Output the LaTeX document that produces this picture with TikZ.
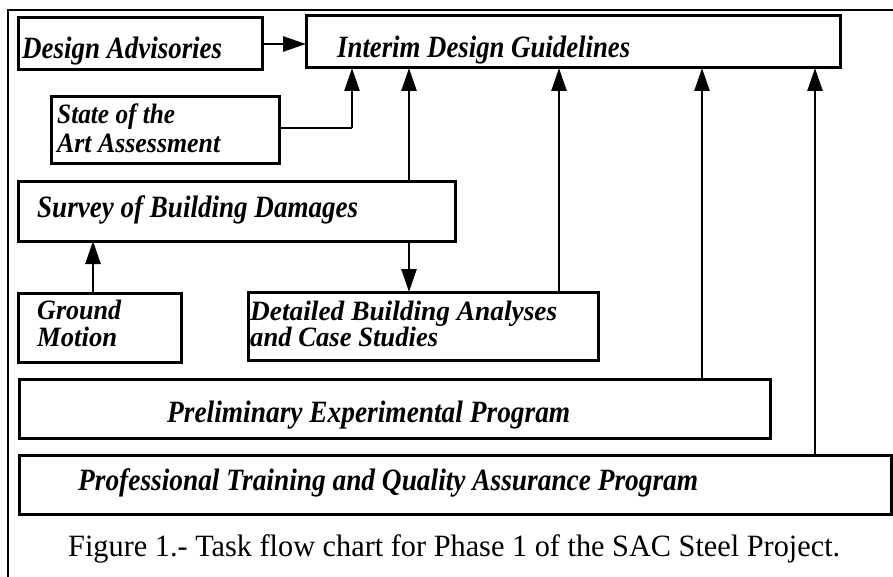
\documentclass[tikz,border=0pt]{standalone}
\usepackage{fontspec}
\usepackage{graphicx}
\setmainfont{Liberation Serif}
\usetikzlibrary{arrows.meta}
\newcommand{\fitw}[2]{\resizebox{#1pt}{\height}{#2}}
\begin{document}
\begin{tikzpicture}[x=1pt,y=-1pt,
  box/.style={draw, line width=3pt, rectangle, outer sep=0pt, inner sep=0pt, fill=white},
  txt/.style={inner sep=0pt, anchor=base west, font=\fontsize{31}{33}\selectfont\bfseries\itshape},
  twoline/.style={inner sep=0pt, anchor=base west, align=left, font=\fontsize{28}{#1}\selectfont\bfseries\itshape},
  captxt/.style={inner sep=0pt, anchor=base west, font=\fontsize{31}{33}\selectfont},
  arr/.style={line width=2.6pt, -{Triangle[length=23pt,width=15pt]}},
  ln/.style={line width=2.6pt}]
\useasboundingbox (0,0) rectangle (893,577);
% outer frame (cropped)
\draw[line width=2.6pt] (893,10) -- (8,10) -- (8,577);
% boxes
\node[box, minimum width=244pt, minimum height=52pt] (da) at (140,44) {};
\node[box, minimum width=534pt, minimum height=52pt] (idg) at (573,42) {};
\node[box, minimum width=228pt, minimum height=67pt] (sa) at (165,130.5) {};
\node[box, minimum width=437pt, minimum height=59pt] (sb) at (236.5,211.5) {};
\node[box, minimum width=163pt, minimum height=69pt] (gm) at (99.5,327.5) {};
\node[box, minimum width=350pt, minimum height=68pt] (db) at (423,326) {};
\node[box, minimum width=751pt, minimum height=59pt] (pe) at (394.5,408.5) {};
\node[box, minimum width=872pt, minimum height=59pt] (pt) at (455,484.5) {};
% texts (two-line nodes are anchored at the baseline of their last line)
\node[txt] (tda) at (22,59) {\fitw{200}{Design Advisories}};
\node[txt] (tidg) at (337,58) {\fitw{293}{Interim Design Guidelines}};
\node[twoline=29pt] (tsa) at (57,153) {\fitw{118}{State of the}\\\fitw{163}{Art Assessment}};
\node[txt] (tsb) at (37,218) {\fitw{321}{Survey of Building Damages}};
\node[twoline=27pt] (tgm) at (37,346) {\fitw{84}{Ground}\\\fitw{80}{Motion}};
\node[twoline=26pt] (tdb) at (250,346) {\fitw{307}{Detailed Building Analyses}\\\fitw{188}{and Case Studies}};
\node[txt] (tpe) at (167,422) {\fitw{403}{Preliminary Experimental Program}};
\node[txt] (tpt) at (78,490) {\fitw{620}{Professional Training and Quality Assurance Program}};
\node[captxt] (caption) at (68,556) {\fitw{772}{Figure 1.- Task flow chart for Phase 1 of the SAC Steel Project.}};
% connector x positions
\coordinate (x93) at (93,0);
\coordinate (x352) at (352,0);
\coordinate (x409) at (409,0);
\coordinate (x559) at (559,0);
\coordinate (x702) at (702,0);
\coordinate (x815) at (815,0);
\coordinate (y128) at (0,128);
% connectors
\draw[arr] (da.east) -- (da.east -| idg.west);
\draw[ln] (sa.east |- y128) -- (x352 |- y128);
\draw[arr] (x352 |- y128) -- (idg.south -| x352);
\draw[arr] (sb.north -| x409) -- (idg.south -| x409);
\draw[arr] (sb.south -| x409) -- (db.north -| x409);
\draw[arr] (gm.north -| x93) -- (sb.south -| x93);
\draw[arr] (db.north -| x559) -- (idg.south -| x559);
\draw[arr] (pe.north -| x702) -- (idg.south -| x702);
\draw[arr] (pt.north -| x815) -- (idg.south -| x815);
\end{tikzpicture}
\end{document}
